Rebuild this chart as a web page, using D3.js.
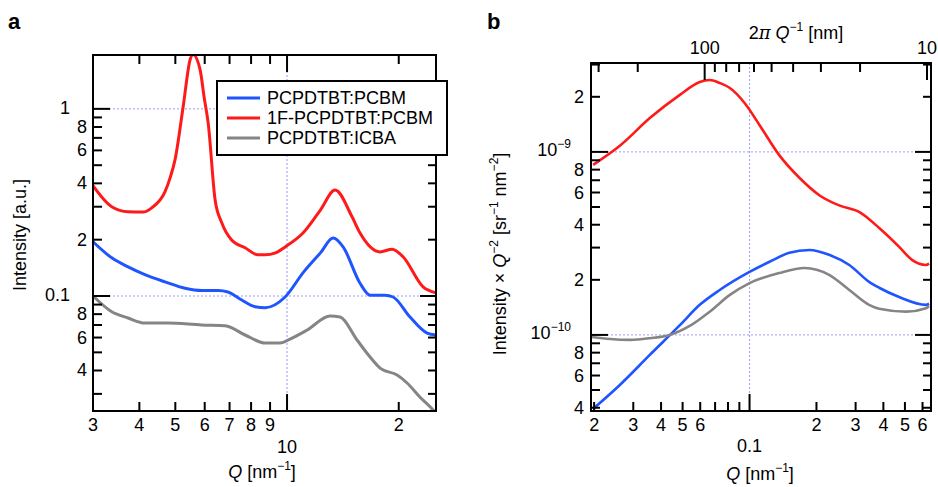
<!DOCTYPE html>
<html>
<head>
<meta charset="utf-8">
<script src="https://cdn.jsdelivr.net/npm/d3@7"></script>
<style>
  body { margin: 0; background: #fff; }
  svg { font-family: "Liberation Sans", Arial, Helvetica, sans-serif; }
</style>
</head>
<body>
<svg id="chart" width="938" height="487"></svg>
<script>
// ---- panel a : Intensity vs Q (log-log), [Q, I] pairs
var aPCBM = [[3.00,0.195],[3.37,0.160],[3.73,0.143],[4.14,0.130],[4.69,0.119],[5.31,0.110],[5.89,0.107],[6.52,0.107],[6.93,0.105],[7.55,0.0952],[8.20,0.0877],[8.73,0.0866],[9.88,0.0988],[11.04,0.133],[12.3,0.170],[13.31,0.204],[14.16,0.183],[15.73,0.117],[16.74,0.101],[18.37,0.101],[19.31,0.0988],[21.45,0.0772],[23.84,0.0634],[25.2,0.0619]];
var a1F = [[3.00,0.389],[3.37,0.300],[3.73,0.282],[4.09,0.281],[4.32,0.296],[4.69,0.361],[4.84,0.428],[4.99,0.534],[5.25,1.03],[5.48,1.83],[5.58,1.95],[5.83,1.62],[5.98,1.15],[6.13,0.841],[6.40,0.326],[6.67,0.246],[7.09,0.199],[7.71,0.181],[8.35,0.166],[8.73,0.166],[9.3,0.170],[9.88,0.183],[11.04,0.217],[12.3,0.288],[13.47,0.369],[14.97,0.265],[15.73,0.217],[17.81,0.172],[19.19,0.178],[20.54,0.162],[23.26,0.112],[25.2,0.104]];
var aICBA = [[3.00,0.100],[3.37,0.0824],[3.73,0.0763],[4.14,0.0717],[4.78,0.0717],[5.89,0.0700],[6.81,0.0694],[7.71,0.0619],[8.73,0.0561],[9.58,0.0561],[10.19,0.0589],[11.33,0.0658],[13.06,0.0782],[13.9,0.0772],[15.44,0.0582],[16.74,0.0472],[17.81,0.0412],[19.8,0.0378],[21.06,0.0343],[22.83,0.0288],[24.75,0.0246],[25.2,0.0235]];

// ---- panel b : Intensity x Q^-2 vs Q
var bPCBM = [[0.0200,3.99e-11],[0.0261,5.33e-11],[0.0356,7.78e-11],[0.0486,1.13e-10],[0.0597,1.46e-10],[0.0734,1.76e-10],[0.100,2.21e-10],[0.123,2.51e-10],[0.151,2.81e-10],[0.186,2.91e-10],[0.228,2.74e-10],[0.281,2.41e-10],[0.345,1.95e-10],[0.383,1.81e-10],[0.471,1.61e-10],[0.622,1.46e-10],[0.642,1.48e-10]];
var b1F = [[0.0198,8.5e-10],[0.0261,1.08e-9],[0.0356,1.53e-9],[0.0486,2.05e-9],[0.0597,2.41e-9],[0.0662,2.47e-9],[0.0734,2.38e-9],[0.0813,2.24e-9],[0.095,1.85e-9],[0.111,1.40e-9],[0.136,9.6e-10],[0.168,7.2e-10],[0.206,5.8e-10],[0.253,5.1e-10],[0.311,4.7e-10],[0.383,3.84e-10],[0.471,3.03e-10],[0.538,2.57e-10],[0.622,2.41e-10],[0.642,2.45e-10]];
var bICBA = [[0.01956,9.75e-11],[0.0236,9.5e-11],[0.029,9.4e-11],[0.0356,9.6e-11],[0.0438,1.0e-10],[0.0538,1.12e-10],[0.0662,1.34e-10],[0.0813,1.65e-10],[0.100,1.92e-10],[0.136,2.18e-10],[0.177,2.32e-10],[0.228,2.13e-10],[0.281,1.76e-10],[0.345,1.46e-10],[0.383,1.39e-10],[0.506,1.34e-10],[0.622,1.40e-10],[0.642,1.44e-10]];

var seriesNames = ["PCPDTBT:PCBM", "1F-PCPDTBT:PCBM", "PCPDTBT:ICBA"];
var seriesColors = ["#1f55ff", "#ff1a1a", "#858585"];

// tick values
var aXTicks = [3,4,5,6,7,8,9,10,20];
var aXMajor = [10];
var aYTicks = [0.03,0.04,0.05,0.06,0.07,0.08,0.09,0.1,0.2,0.3,0.4,0.5,0.6,0.7,0.8,0.9,1];
var aYMajor = [0.1, 1];
var aXLabels = [[3,"3"],[4,"4"],[5,"5"],[6,"6"],[7,"7"],[8,"8"],[9,"9"],[20,"2"]];
var aXMajorLabels = [[10,"10"]];
var aYLabels = [[0.04,"4"],[0.06,"6"],[0.08,"8"],[0.2,"2"],[0.4,"4"],[0.6,"6"],[0.8,"8"]];
var aYMajorLabels = [[0.1,"0.1"],[1,"1"]];

var bXTicks = [0.02,0.03,0.04,0.05,0.06,0.07,0.08,0.09,0.1,0.2,0.3,0.4,0.5,0.6];
var bXMajor = [0.1];
var bTopTicks = [300,200,100,90,80,70,60,50,40,30,20,10];   // 2pi/Q in nm
var bTopMajor = [100, 10];
var bYTicks = [4e-11,5e-11,6e-11,7e-11,8e-11,9e-11,1e-10,2e-10,3e-10,4e-10,5e-10,6e-10,7e-10,8e-10,9e-10,1e-9,2e-9,3e-9];
var bYMajor = [1e-10, 1e-9];
var bXLabels = [[0.02,"2"],[0.03,"3"],[0.04,"4"],[0.05,"5"],[0.06,"6"],[0.2,"2"],[0.3,"3"],[0.4,"4"],[0.5,"5"],[0.6,"6"]];
var bXMajorLabels = [[0.1,"0.1"]];
var bTopLabels = [[100,"100"],[10,"10"]];
var bYLabels = [[4e-11,"4"],[6e-11,"6"],[8e-11,"8"],[2e-10,"2"],[4e-10,"4"],[6e-10,"6"],[8e-10,"8"],[2e-9,"2"]];
var bYMajorLabels = [[1e-10,"\u221210"],[1e-9,"\u22129"]];

var svg = d3.select("#chart");
var FS = 18;

// scales
var xA = d3.scaleLog().domain([3, 25.2]).range([93, 436]);
var yA = d3.scaleLog().domain([0.0243, 1.94]).range([411, 55]);
var xB = d3.scaleLog().domain([0.01936, 0.655]).range([591, 931]);
var yB = d3.scaleLog().domain([3.84e-11, 3.06e-9]).range([411, 63]);

function clipFor(id, x, y) {
  svg.append("clipPath").attr("id", id).append("rect")
    .attr("x", x.range()[0]).attr("y", y.range()[1])
    .attr("width", x.range()[1] - x.range()[0])
    .attr("height", y.range()[0] - y.range()[1]);
}
clipFor("clipA", xA, yA);
clipFor("clipB", xB, yB);

function grid(x, y, xs, ys) {
  var g = svg.append("g").attr("stroke", "#9b9bff").attr("stroke-width", 1).attr("stroke-dasharray", "2,2");
  g.selectAll(null).data(xs).enter().append("line")
    .attr("x1", d => x(d)).attr("x2", d => x(d))
    .attr("y1", y.range()[1]).attr("y2", y.range()[0]);
  g.selectAll(null).data(ys).enter().append("line")
    .attr("y1", d => y(d)).attr("y2", d => y(d))
    .attr("x1", x.range()[0]).attr("x2", x.range()[1]);
}
grid(xA, yA, [10], [0.1, 1]);
grid(xB, yB, [0.1], [1e-10, 1e-9]);

function curves(x, y, sets, clip, w) {
  var line = d3.line().x(d => x(d[0])).y(d => y(d[1])).curve(d3.curveMonotoneX);
  var g = svg.append("g").attr("clip-path", "url(#" + clip + ")");
  g.selectAll("path").data(sets).enter().append("path")
    .attr("d", line)
    .attr("fill", "none")
    .attr("stroke", (d, i) => seriesColors[i])
    .attr("stroke-width", w)
    .attr("stroke-linejoin", "round");
}
curves(xA, yA, [aPCBM, a1F, aICBA], "clipA", 3);
curves(xB, yB, [bPCBM, b1F, bICBA], "clipB", 2.6);

// frame
function frame(x, y) {
  svg.append("rect")
    .attr("x", x.range()[0]).attr("y", y.range()[1])
    .attr("width", x.range()[1] - x.range()[0])
    .attr("height", y.range()[0] - y.range()[1])
    .attr("fill", "none").attr("stroke", "#000").attr("stroke-width", 2);
}
frame(xA, yA);
frame(xB, yB);

// inward ticks
function ticks(pos, vals, majors, side, edge, minLen, majLen) {
  var len = d => majors.indexOf(d) >= 0 ? majLen : minLen;
  var sel = svg.append("g").attr("stroke", "#000").attr("stroke-width", 2)
    .selectAll(null).data(vals).enter().append("line");
  if (side === "left" || side === "right") {
    var s = side === "left" ? 1 : -1;
    sel.attr("y1", d => pos(d)).attr("y2", d => pos(d))
      .attr("x1", edge).attr("x2", d => edge + s * len(d));
  } else {
    var s2 = side === "top" ? 1 : -1;
    sel.attr("x1", d => pos(d)).attr("x2", d => pos(d))
      .attr("y1", edge).attr("y2", d => edge + s2 * len(d));
  }
}
ticks(yA, aYTicks, aYMajor, "left", 93, 9, 17);
ticks(yA, aYTicks, aYMajor, "right", 436, 8, 16);
ticks(xA, aXTicks, aXMajor, "bottom", 411, 9, 17);
ticks(xA, aXTicks, aXMajor, "top", 55, 9, 17);

ticks(yB, bYTicks, bYMajor, "left", 591, 9, 17);
ticks(yB, bYTicks, bYMajor, "right", 931, 8, 16);
ticks(xB, bXTicks, bXMajor, "bottom", 411, 9, 17);
var topPos = d => xB(2 * Math.PI / d);
ticks(topPos, bTopTicks, bTopMajor, "top", 63, 9, 17);

// tick labels
function labels(list, fx, fy, anchor) {
  svg.append("g").attr("font-size", FS).attr("text-anchor", anchor)
    .selectAll(null).data(list).enter().append("text")
    .attr("x", fx).attr("y", fy)
    .text(d => d[1]);
}
labels(aXLabels, d => xA(d[0]), 431, "middle");
labels(aXMajorLabels, d => xA(d[0]), 453, "middle");
labels(aYLabels, 87, d => yA(d[0]) + 6, "end");
labels(aYMajorLabels, 70, d => yA(d[0]) + 5, "end");

labels(bXLabels, d => xB(d[0]), 431, "middle");
labels(bXMajorLabels, d => xB(d[0]), 452, "middle");
labels(bTopLabels, d => topPos(d[0]), 54, "middle");
labels(bYLabels, 584, d => yB(d[0]) + 6, "end");

// 10^n labels on panel b
var pw = svg.append("g").attr("font-size", FS).attr("text-anchor", "end")
  .selectAll(null).data(bYMajorLabels).enter().append("text")
  .attr("x", 571).attr("y", d => yB(d[0]) + 4);
pw.append("tspan").text("10");
pw.append("tspan").attr("dy", -8).attr("font-size", 12).text(d => d[1]);

// axis titles
function title(x, y, rot, parts) {
  var t = svg.append("text").attr("font-size", FS).attr("text-anchor", "middle")
    .attr("transform", "translate(" + x + "," + y + ")" + (rot ? " rotate(-90)" : ""));
  parts.forEach(function(p) {
    var s = t.append("tspan").text(p.t);
    if (p.i) s.attr("font-style", "italic");
    if (p.f) s.attr("font-family", p.f);
    if (p.up) s.attr("dy", -8).attr("font-size", 12);
    if (p.down) s.attr("dy", 8);
  });
}
title(262, 478, false, [{t: "Q", i: 1}, {t: " [nm"}, {t: "\u22121", up: 1}, {t: "]", down: 1}]);
title(760, 480, false, [{t: "Q", i: 1}, {t: " [nm"}, {t: "\u22121", up: 1}, {t: "]", down: 1}]);
title(26, 235, true, [{t: "Intensity [a.u.]"}]);
title(506, 254, true, [{t: "Intensity \u00d7 "}, {t: "Q", i: 1}, {t: "\u22122", up: 1}, {t: " [sr", down: 1}, {t: "\u22121", up: 1}, {t: " nm", down: 1}, {t: "\u22122", up: 1}, {t: "]", down: 1}]);
title(796, 39, false, [{t: "2"}, {t: "\u03c0", i: 1, f: "DejaVu Serif"}, {t: " Q", i: 1}, {t: "\u22121", up: 1}, {t: " [nm]", down: 1}]);

// panel letters
svg.append("text").attr("x", 8).attr("y", 29).attr("font-size", 22).attr("font-weight", "bold").text("a");
svg.append("text").attr("x", 487).attr("y", 29).attr("font-size", 22).attr("font-weight", "bold").text("b");

// legend
var lg = svg.append("g");
lg.append("rect").attr("x", 217).attr("y", 81).attr("width", 230).attr("height", 74)
  .attr("fill", "#fff").attr("stroke", "#000").attr("stroke-width", 2);
var rows = lg.selectAll(null).data(seriesNames).enter().append("g")
  .attr("transform", (d, i) => "translate(0," + (98 + i * 20) + ")");
rows.append("line").attr("x1", 227).attr("x2", 260)
  .attr("stroke", (d, i) => seriesColors[i]).attr("stroke-width", 3);
rows.append("text").attr("x", 267).attr("y", 6).attr("font-size", FS).text(d => d);
</script>
</body>
</html>
